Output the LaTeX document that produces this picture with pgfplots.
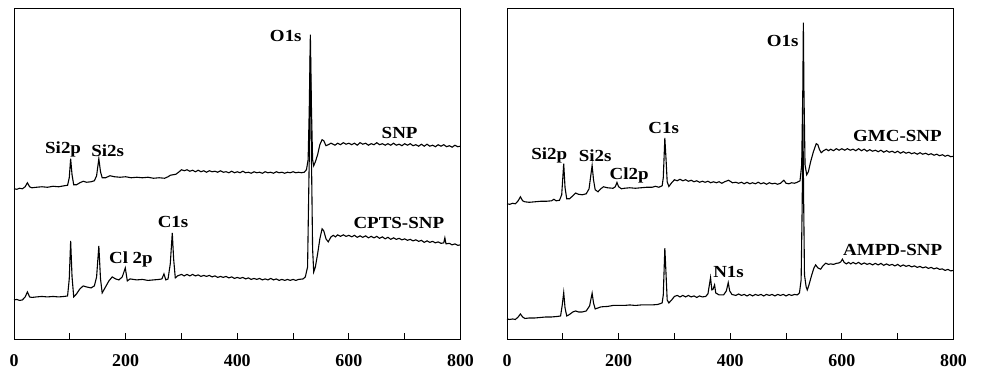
\documentclass[border=0pt]{standalone}
\usepackage{pgfplots}
\pgfplotsset{compat=1.18}
\usepackage{fontspec}
\setmainfont{Liberation Serif}
\begin{document}
\begin{tikzpicture}
\useasboundingbox (0,0) rectangle (983bp,374bp);
\tikzset{lbl/.style={anchor=base, font=\fontsize{17}{17}\selectfont\bfseries, xscale=1.12, inner sep=0pt}}
\pgfplotsset{
  xpsaxis/.style={scale only axis, width=446.5bp, height=330.5bp,
    xmin=0, xmax=800, ymin=0, ymax=330,
    xtick={0,200,...,800}, minor xtick={100,300,500,700}, ytick=\empty,
    tick align=inside, xtick pos=bottom,
    major tick length=6bp, minor tick length=6bp,
    axis line style={line width=0.9bp},
    every tick/.style={black, line width=0.9bp},
    ticklabel style={font=\fontsize{18}{18}\selectfont\bfseries},
    /pgf/number format/assume math mode=true,
    xticklabel style={yshift=-12bp},
    clip=false},
  spec/.style={black, line width=1.1bp, no markers}
}
\begin{axis}[xpsaxis, at={(14bp,35bp)}, anchor=south west]
% SNP
\addplot[spec] coordinates {
(0,150)(5,149.5)(10,150.5)(15,150)(20,152)(24,156)(28,152)(32,151)(40,151.5)(50,152)(60,151.5)(70,152.5)(80,152)(90,153)(96,153.5)(99,161)(101.5,180)(104,164)(107,154)(112,154)(118,156)(124,157.5)(130,156.5)(138,157)(144,158)(148,163)(152,180)(155,167)(158,161)(164,161)(172,163)(180,162)(190,161.5)(200,162)(210,161)(220,161.5)(230,161)(240,161.5)(250,160.5)(260,161)(270,160.5)(276,162)(280,163.5)(285,164)(290,164.5)(296,167)
(300,169)(305,168)(310,169)(315,167.5)(320,168.5)(325,167)(330,168.5)(335,167)(340,168)(345,166.5)(350,168)(355,167)(360,167.5)(365,166.5)(370,168)(375,166.5)(380,167)(385,166)(390,167.5)(395,166)(400,167)(405,166)(410,167.5)(415,166)(420,166.5)(425,165.5)(430,167)(435,166)(440,166.5)(445,165.5)(450,167)(455,166)(460,166.5)(465,165.5)(470,167)(475,166)(480,166.5)(485,165.5)(490,166.5)(495,166)(500,167)(505,166)(510,166.5)(515,166)(520,166.5)
(524,169)(527,179)(529,229)(531,304)(533,229)(535,179)(537,173)(540,177)(544,184)(548,194)(552,199)(555,198)(559,193)
(563,194)(568,195.5)(575,193.5)(580,195.5)(585,194)(590,196)(595,194.5)(600,195.5)(605,194)(610,195.5)(615,193.5)(620,196)(625,194.5)(630,195.5)(635,193.5)(640,195)(645,194)(650,196)(655,194)(660,195)(665,193.5)(670,195)(675,193.5)(680,195.5)(685,193.5)(690,194.5)(695,193)(700,195)(705,193.5)(710,195)(715,193)(720,194)(725,192.5)(730,194.5)(735,192.5)(740,194.5)(745,192.5)(750,193.5)(755,192)(760,194)(765,192.5)(770,194)(775,192)(780,193)(785,191.5)(790,193.5)(795,192)(800,192.5)
};
% CPTS-SNP
\addplot[spec] coordinates {
(0,39)(5,39.5)(10,38.5)(15,39)(20,42)(24,47)(28,42)(32,41.5)(40,42)(50,42.5)(60,42)(70,42.5)(80,42)(90,42.5)(96,43)(99,60)(101.5,98)(104,62)(107,42)(112,45)(118,50)(124,53)(130,52)(138,51)(144,53)(148,62)(152,93)(155,60)(158,46)(164,52)(170,58)(176,62)(182,60)(188,59)(194,62)(199.4,71)(203,58)(208,60)(214,59.5)(220,59)(230,59.5)(240,58.5)(250,59)(260,59.5)(265,60)(268.7,65)(272,59)(276,60)(280,75)(283.6,106)(286,80)(289,61)(293,63)
(300,64.5)(305,63)(310,64.5)(315,63)(320,64.5)(325,63)(330,64)(335,62.5)(340,63.5)(345,62.5)(350,63.5)(355,62)(360,63)(365,61.5)(370,62.5)(375,61.5)(380,62.5)(385,61)(390,62)(395,60.5)(400,61.5)(405,60.5)(410,61.5)(415,60)(420,61)(425,59.5)(430,60.5)(435,59.5)(440,60.5)(445,59)(450,60)(455,59)(460,60.5)(465,59)(470,60)(475,58.5)(480,59.5)(485,58.5)(490,59.5)(495,58.5)(500,59.5)(505,58.5)(510,59.5)(518,60)
(522,62)(526,72)(529,180)(531,289)(533,180)(535,90)(537,67)(540,72)(544,85)(548,100)(552,110)(555,108)(559,100)(563,97)
(568,102)(572,103.5)(576,102)(580,104)(585,102.5)(590,104)(595,102.5)(600,103.5)(605,102)(610,103.5)(615,101.5)(620,103)(625,101.5)(630,103)(635,101)(640,102.5)(645,101)(650,102.5)(655,100.5)(660,102)(665,100)(670,101.5)(675,99.5)(680,101)(685,99.5)(690,100.5)(695,99)(700,100)(705,98.5)(710,99.5)(715,98)(720,99)(725,97.5)(730,98.5)(735,96.5)(740,98)(745,96.5)(750,97.5)(755,96)(760,97)(765,95.5)(770,96)(772,101)(774,95)(780,95.5)(785,94)(790,95)(795,93.5)(800,94)
};
\node[lbl] at (axis cs:487,297.3) {O1s};
\node[lbl] at (axis cs:691,199.7) {SNP};
\node[lbl] at (axis cs:88,185) {Si2p};
\node[lbl] at (axis cs:168,182.3) {Si2s};
\node[lbl] at (axis cs:689.5,110.3) {CPTS-SNP};
\node[lbl] at (axis cs:285,111.7) {C1s};
\node[lbl] at (axis cs:209.5,75.7) {Cl 2p};
\end{axis}
\begin{axis}[xpsaxis, at={(507bp,35bp)}, anchor=south west]
% GMC-SNP
\addplot[spec] coordinates {
(0,135)(5,134.5)(10,135.5)(15,135)(20,138)(24,142)(28,138)(32,137)(40,136.5)(50,137)(60,137.5)(70,137.5)(80,138)(84,139.5)(88,138)(94,138.5)(98,144)(101.6,175)(104,151)(107,140)(112,140)(118,143)(123,145.7)(128,144.5)(135,144)(142,145)(147,150)(152.5,173.3)(155,159)(158,149)(163,147)(168,150)(173,152)(180,151)(190,150.5)(194,152)(197,156.3)(200,152)(205,150)(210,150.5)(220,151)(230,150.5)(240,151)(250,151.5)(260,151.5)(266,152.5)(272,151.5)(278,153)(280,161)(282.8,200.7)(285,179)(287,157)(290,152.3)(295,156)
(300,159)(305,158)(310,159.5)(315,158)(320,159)(325,157.5)(330,158.5)(335,157)(340,158)(345,156.5)(350,157.5)(355,156.5)(360,157.5)(365,156)(370,157)(375,156)(380,157)(385,155.5)(390,157)(397,158.5)(404,156)(410,156.5)(415,155.5)(420,156.5)(425,155)(430,156.5)(435,155)(440,156)(445,155)(450,156.5)(455,155)(460,156)(465,154.5)(470,156)(475,155)(480,155.5)(485,154.5)(490,155.5)(496,158.5)(500,155.5)(505,155)(510,156)(515,155.5)(520,156.5)(525,158)
(528,174)(530,249)(531,316)(532,249)(534,174)(537,164)(540,167)(544,177)(549,187)(554,195)(557,194)(560,189)(563,186)
(567,188)(572,189.5)(576,188)(580,189.5)(585,188)(590,190)(595,188.5)(600,190)(605,188.5)(610,190)(615,188.5)(620,189.5)(625,188)(630,190)(635,188)(640,189.5)(645,187.5)(650,189)(655,187.5)(660,188.5)(665,187)(670,188.5)(675,186.5)(680,188)(685,186.5)(690,187.5)(695,186)(700,187.5)(705,185.5)(710,187)(715,185.5)(720,186.5)(725,185)(730,186)(735,184.5)(740,186)(745,184.5)(750,185.5)(755,184)(760,185)(765,183.5)(770,184.5)(775,183)(780,184)(785,182.5)(790,183.5)(795,182)(800,182.5)
};
% AMPD-SNP
\addplot[spec] coordinates {
(0,20)(5,19.5)(10,20)(15,19.5)(20,22)(24,25)(28,22)(32,20.5)(40,21)(50,21)(60,21.5)(70,22)(80,22)(90,22.5)(96,23)(99,34)(101.6,46.3)(104,31)(107,23)(112,24.5)(118,27)(123,28)(128,27)(135,27)(142,28)(148,33)(152.5,45.7)(155,36)(158,30)(163,31)(168,32)(173,32.3)(180,32.5)(190,33.5)(200,33.5)(210,33.5)(220,34)(230,33.5)(240,34)(250,34)(260,34)(270,34.5)(278,36)(280,44)(282.8,90.7)(285,64)(287,39)(290,36)(295,39)
(300,42.5)(305,43.5)(310,42)(315,43.5)(320,42)(325,43.5)(330,42)(335,43)(340,41.5)(345,43)(350,42)(356,42.5)(360,45)(364.7,61.3)(367,49)(369,49.5)(371.9,54)(374,46)(380,44)(388,44)(393,48)(396.4,56.3)(399,48)
(403,44.5)(410,43.5)(415,45)(420,43.5)(425,44.5)(430,43)(435,44.5)(440,43)(445,44.5)(450,43.5)(455,44.5)(460,43)(465,44.5)(470,43.5)(475,44.5)(480,43)(485,44.5)(490,43.5)(495,44.5)(500,43)(505,44.5)(510,43.5)(515,44.5)(520,44)
(524,46)(527,59)(529,139)(530,229)(531.5,139)(533,64)(536,52)(538,49)(541,54)(546,64)(550,71)(553,74)(557,71)(562,69.7)(566,73)(571,75.7)(576,74.5)(580,75)(585,74.5)(590,75.5)(595,76)(598,77)(601,79.7)
(604,76.5)(608,75)(612,76.5)(616,75)(620,76.5)(625,75)(630,76.5)(635,74.5)(640,76)(645,74.5)(650,75.5)(655,74)(660,75.5)(665,74)(670,75.5)(675,73.5)(680,75)(685,73.5)(690,74.5)(695,73)(700,74.5)(705,72.5)(710,74)(715,72.5)(720,73.5)(725,72)(730,73)(735,71.5)(740,72.5)(745,71)(750,72)(755,70.5)(760,71.5)(765,70)(770,71)(775,69.5)(780,70)(785,68.5)(790,69.5)(795,68)(800,68.5)
};
\node[lbl] at (axis cs:494,292.3) {O1s};
\node[lbl] at (axis cs:699.5,197.3) {GMC-SNP};
\node[lbl] at (axis cs:280.7,205) {C1s};
\node[lbl] at (axis cs:75.7,179) {Si2p};
\node[lbl] at (axis cs:158,177.3) {Si2s};
\node[lbl] at (axis cs:219,159) {Cl2p};
\node[lbl] at (axis cs:691,83) {AMPD-SNP};
\node[lbl] at (axis cs:397,61.7) {N1s};
\end{axis}
\end{tikzpicture}
\end{document}
